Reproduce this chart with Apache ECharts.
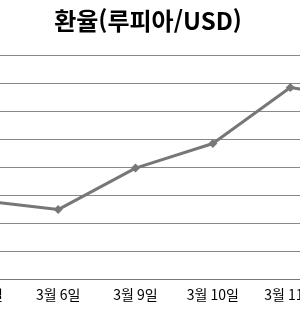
<!DOCTYPE html>
<html lang="ko">
<head>
    <meta charset="UTF-8">
    <title>환율</title>
    <style>
        *{
            padding:0;
            margin:0;
        }
        html, body{
            width:300px;
            height:311px;
            overflow:hidden;
            background:#fff;
        }
        #main{
            position:absolute;
            left:-100px;
            top:0;
            width:520px;
            height:311px;
        }
    </style>
    <script src="https://cdn.jsdelivr.net/npm/echarts@6/dist/echarts.min.js"></script>
</head>
<body>
<div id="main"></div>
<script>
    // 날짜 (첫째/마지막 항목은 그림 밖으로 잘림)
    var categories = ['3월 5일', '3월 6일', '3월 9일', '3월 10일', '3월 11일', '3월 12일'];
    // 루피아/USD
    var rates = [12920, 12912, 12949, 12971, 13021, 13010];
    var yMin = 12850;
    var yMax = 13050;
    var yStep = 25;

    var myChart = echarts.init(document.getElementById('main'));
    var option = {
        backgroundColor: '#fff',
        animation: false,
        title: {
            text: '환율(루피아/USD)',
            left: 248,
            top: 9,
            padding: 0,
            textAlign: 'center',
            textStyle: {
                color: '#000',
                fontSize: 24,
                fontWeight: 'bold',
                fontFamily: 'Noto Sans CJK KR'
            }
        },
        grid: {
            left: 42,
            top: 55,
            width: 464.4,
            height: 224
        },
        xAxis: {
            type: 'category',
            data: categories,
            boundaryGap: true,
            axisLine: {lineStyle: {color: '#777', width: 1}},
            axisTick: {length: 4, lineStyle: {color: '#777'}},
            axisLabel: {
                color: '#000',
                fontSize: 14,
                margin: 9,
                interval: 0,
                fontFamily: 'Noto Sans CJK KR'
            }
        },
        yAxis: {
            type: 'value',
            min: yMin,
            max: yMax,
            interval: yStep,
            axisLine: {show: false},
            axisTick: {show: false},
            axisLabel: {show: false},
            splitLine: {lineStyle: {color: '#888', width: 1}}
        },
        series: [{
            name: '환율',
            type: 'line',
            data: rates,
            symbol: 'diamond',
            symbolSize: 9,
            lineStyle: {color: '#777', width: 3},
            itemStyle: {color: '#777'}
        }]
    };
    myChart.setOption(option);
</script>
</body>
</html>
